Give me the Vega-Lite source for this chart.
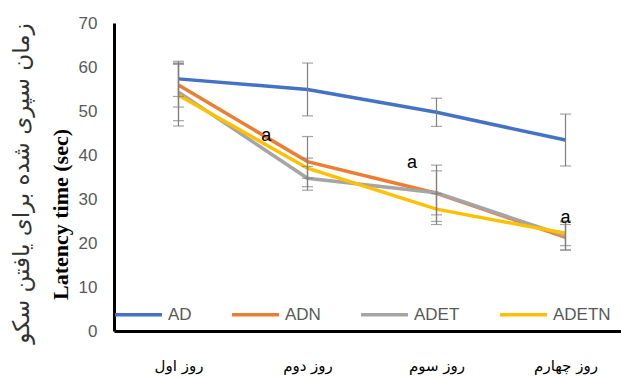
{
  "$schema": "https://vega.github.io/schema/vega-lite/v6.json",
  "width": 516,
  "height": 308,
  "autosize": {"type": "none"},
  "padding": {"left": 114, "top": 23, "right": 0, "bottom": 49},
  "background": "white",
  "config": {"view": {"stroke": null}},
  "data": {"values": [
    {"day": 1, "series": "AD", "value": 57.3, "err": 4.0},
    {"day": 2, "series": "AD", "value": 54.9, "err": 6.0},
    {"day": 3, "series": "AD", "value": 49.7, "err": 3.2},
    {"day": 4, "series": "AD", "value": 43.4, "err": 5.9},
    {"day": 1, "series": "ADN", "value": 55.9, "err": 5.0},
    {"day": 2, "series": "ADN", "value": 38.5, "err": 5.7},
    {"day": 3, "series": "ADN", "value": 31.3, "err": 6.4},
    {"day": 4, "series": "ADN", "value": 21.3, "err": 2.9},
    {"day": 1, "series": "ADET", "value": 54.3, "err": 6.5},
    {"day": 2, "series": "ADET", "value": 34.7, "err": 2.7},
    {"day": 3, "series": "ADET", "value": 31.4, "err": 5.0},
    {"day": 4, "series": "ADET", "value": 21.6, "err": 3.2},
    {"day": 1, "series": "ADETN", "value": 53.6, "err": 7.0},
    {"day": 2, "series": "ADETN", "value": 37.0, "err": 2.3},
    {"day": 3, "series": "ADETN", "value": 27.7, "err": 3.5},
    {"day": 4, "series": "ADETN", "value": 22.2, "err": 2.8}
  ]},
  "resolve": {"axis": {"y": "independent"}},
  "layer": [
    {
      "mark": {"type": "line", "strokeWidth": 3.5},
      "encoding": {
        "x": {"field": "day", "type": "quantitative",
              "scale": {"domain": [0.5, 4.5], "nice": false},
              "axis": {"values": [1, 2, 3, 4], "title": null, "grid": false, "ticks": false,
                       "domainColor": "black", "domainWidth": 3,
                       "labelFont": "DejaVu Sans", "labelFontSize": 15, "labelColor": "black", "labelPadding": 27,
                       "labelExpr": "datum.value == 1 ? 'روز اول' : datum.value == 2 ? 'روز دوم' : datum.value == 3 ? 'روز سوم' : 'روز چهارم'"}},
        "y": {"field": "value", "type": "quantitative",
              "scale": {"domain": [0, 70], "nice": false},
              "axis": {"values": [0, 10, 20, 30, 40, 50, 60, 70], "grid": false, "ticks": false,
                       "domainColor": "black", "domainWidth": 3,
                       "labelFont": "Liberation Sans", "labelFontSize": 17, "labelColor": "#595959", "labelPadding": 17,
                       "title": "Latency time (sec)", "titleFont": "Liberation Serif", "titleFontSize": 22,
                       "titleFontWeight": "bold", "titleColor": "black",
                       "titleX": -54, "titleY": 191, "titleAngle": -90, "titleAlign": "center", "titleBaseline": "middle"}},
        "color": {"field": "series", "type": "nominal",
                  "scale": {"domain": ["AD", "ADN", "ADET", "ADETN"], "range": ["#4472C4", "#ED7D31", "#A5A5A5", "#FFC000"]},
                  "legend": {"title": null, "orient": "none", "legendX": -1, "legendY": 266, "direction": "horizontal",
                             "symbolType": "stroke", "symbolSize": 2200, "symbolStrokeWidth": 3.5,
                             "labelFont": "Liberation Sans", "labelFontSize": 17, "labelColor": "#595959",
                             "labelOffset": 4, "columnPadding": 33}}
      }
    },
    {
      "mark": {"type": "errorbar", "ticks": {"size": 11, "thickness": 1.2}, "color": "#7F7F7F", "thickness": 1.2},
      "encoding": {
        "x": {"field": "day", "type": "quantitative"},
        "y": {"field": "value", "type": "quantitative", "axis": null},
        "yError": {"field": "err"}
      }
    },
    {
      "data": {"values": [
        {"px": 1.68, "py": 44.3, "label": "a"},
        {"px": 2.81, "py": 38.1, "label": "a"},
        {"px": 4.0, "py": 25.6, "label": "a"}
      ]},
      "mark": {"type": "text", "font": "Liberation Sans", "fontSize": 18, "color": "black"},
      "encoding": {
        "x": {"field": "px", "type": "quantitative"},
        "y": {"field": "py", "type": "quantitative",
              "axis": {"orient": "left", "labels": false, "ticks": false, "domain": false, "grid": false,
                       "title": "زمان سپری شده برای یافتن سکو", "titleFont": "DejaVu Sans", "titleFontSize": 23,
                       "titleFontWeight": "normal", "titleColor": "#333333",
                       "titleX": -93, "titleY": 160, "titleAngle": -90, "titleAlign": "center", "titleBaseline": "middle"}},
        "text": {"field": "label"}
      }
    }
  ]
}
